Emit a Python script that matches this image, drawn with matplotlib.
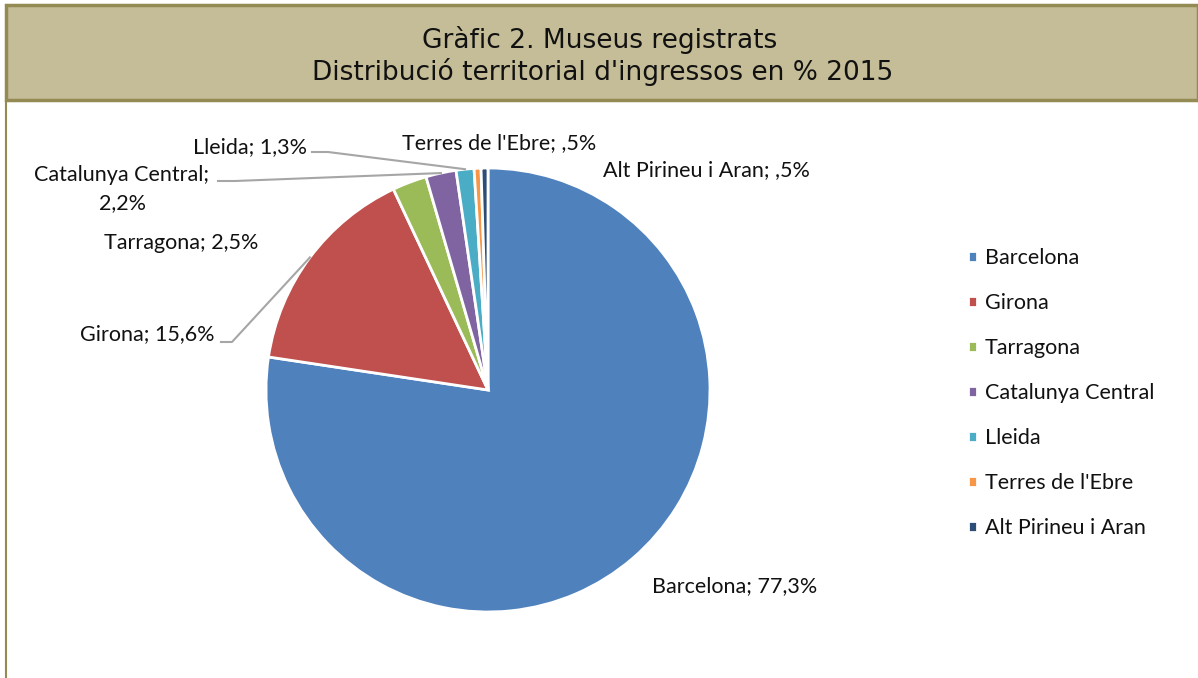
import matplotlib
matplotlib.use('Agg')
from matplotlib import pyplot as plt
from matplotlib.lines import Line2D
from matplotlib.patches import Rectangle
import numpy as np

# data
regions = ['Barcelona', 'Girona', 'Tarragona', 'Catalunya Central',
           'Lleida', "Terres de l'Ebre", 'Alt Pirineu i Aran']
shares = [77.3, 15.6, 2.5, 2.2, 1.3, 0.5, 0.5]
share_labels = ['77,3%', '15,6%', '2,5%', '2,2%', '1,3%', ',5%', ',5%']
colors = ['#4F81BD', '#C0504D', '#9BBB59', '#8064A2',
          '#4BACC6', '#F79646', '#2C4D75']
title_lines = ['Gràfic 2. Museus registrats',
               "Distribució territorial d'ingressos en % 2015"]

W, H = 1198, 678
fig = plt.figure(figsize=(W / 100, H / 100), dpi=100)
fig.patch.set_facecolor('white')

def fx(x):
	return x / W

def fy(y):
	return 1 - y / H

border = '#948A54'
# title band + frame
fig.patches.append(Rectangle((fx(6), fy(100)), fx(1198 - 6), 95 / H,
	transform=fig.transFigure, facecolor='#C4BD97', edgecolor=border, lw=2.5))
fig.lines.append(Line2D([fx(6), fx(6)], [fy(100), fy(678)],
	transform=fig.transFigure, color=border, lw=1.5))

fig.text(fx(600), fy(40), title_lines[0], ha='center', va='center',
	fontsize=19, family='DejaVu Sans', color='#111111')
fig.text(fx(603), fy(72), title_lines[1], ha='center', va='center',
	fontsize=19, family='DejaVu Sans', color='#111111')

# pie
cx, cy, r = 488, 390, 222
ax = fig.add_axes([fx(cx - r), fy(cy + r), 2 * r / W, 2 * r / H])
wedges, _ = ax.pie(shares, colors=colors, startangle=90, counterclock=False,
	radius=1, wedgeprops=dict(edgecolor='white', linewidth=2))
ax.set_xlim(-1, 1)
ax.set_ylim(-1, 1)
ax.set_aspect('auto')
ax.axis('off')

lab_font = dict(family='Lato', fontsize=15.5, color='#111111')

def lab(i):
	return regions[i] + '; ' + share_labels[i]

# label positions (pixel, left/center)
fig.text(fx(652), fy(586), lab(0), ha='left', va='center', **lab_font)
fig.text(fx(215), fy(334), lab(1), ha='right', va='center', **lab_font)
fig.text(fx(258), fy(243), lab(2), ha='right', va='center', **lab_font)
fig.text(fx(122), fy(189), regions[3] + ';\n' + share_labels[3], ha='center',
	va='center', linespacing=1.45, **lab_font)
fig.text(fx(307), fy(147), lab(4), ha='right', va='center', **lab_font)
fig.text(fx(402), fy(143), lab(5), ha='left', va='center', **lab_font)
fig.text(fx(603), fy(170), lab(6), ha='left', va='center', **lab_font)

# leader lines to wedge mid points
def mid_point(w):
	a = np.deg2rad((w.theta1 + w.theta2) / 2)
	return cx + r * np.cos(a), cy - r * np.sin(a)

def leader(pts):
	xs = [fx(p[0]) for p in pts]
	ys = [fy(p[1]) for p in pts]
	fig.lines.append(Line2D(xs, ys, transform=fig.transFigure,
		color='#A6A6A6', lw=1.5))

leader([(221, 342), (232, 342), mid_point(wedges[1])])
leader([(218, 181), (235, 181), mid_point(wedges[3])])
leader([(312, 152), (328, 152), mid_point(wedges[4])])

# legend
leg = fig.legend(wedges, regions, loc='upper left',
	bbox_to_anchor=(fx(968), fy(248)), frameon=False,
	prop=dict(family='Lato', size=15.5), handlelength=0.42, handleheight=0.42,
	handletextpad=0.35, labelspacing=1.16, borderpad=0, borderaxespad=0)
for t in leg.get_texts():
	t.set_color('#111111')

fig.savefig('out.png', dpi=100)
